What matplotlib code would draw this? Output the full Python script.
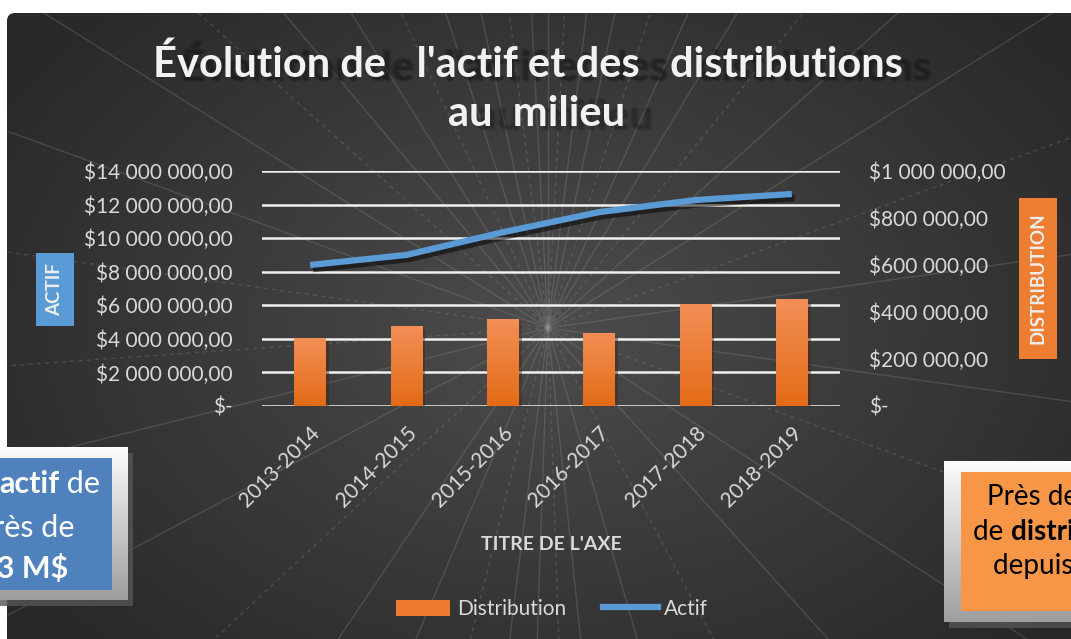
import numpy as np
import matplotlib
matplotlib.use("Agg")
import matplotlib.pyplot as plt
from matplotlib.patches import Rectangle, Patch, FancyBboxPatch
from matplotlib.lines import Line2D
from matplotlib.ticker import FuncFormatter, MultipleLocator
import matplotlib.patheffects as pe

plt.rcParams['font.family'] = ['Lato', 'DejaVu Sans']

# data
annees = ["2013-2014", "2014-2015", "2015-2016", "2016-2017", "2017-2018", "2018-2019"]
actif = [8.40e6, 9.00e6, 10.35e6, 11.55e6, 12.27e6, 12.63e6]
distribution = [289000, 340000, 370000, 311000, 434000, 455000]

W, H = 1071, 639
fig = plt.figure(figsize=(W / 100, H / 100), dpi=100)
fig.patch.set_facecolor('white')

# ---- background (pixel coordinates)
bg = fig.add_axes([0, 0, 1, 1])
bg.set_xlim(0, W)
bg.set_ylim(H, 0)
bg.axis('off')

cx, cy = 548, 328
yy, xx = np.mgrid[13:H, 7:W]
d = np.sqrt(((xx - cx) / 650.0) ** 2 + ((yy - cy) / 450.0) ** 2)
g = 0.30 - 0.14 * np.clip(d, 0, 1)
img = np.dstack([g, g, g])
clip = FancyBboxPatch((7, 13), W + 20, H, boxstyle="round,pad=0,rounding_size=8",
                      transform=bg.transData, fc='none', ec='none')
bg.add_patch(clip)
im = bg.imshow(img, extent=[7, W, H, 13], aspect='auto', zorder=0)
im.set_clip_path(clip)

# rays from the centre
ray_angles = [-172, -160, -148, -138, -130, -122, -115, -108, -102, -97, -93, -90, -87, -83,
              -78, -72, -66, -59, -51, -42, -32, -20, -8, 8, 20, 33, 48, 62, 74, 84, 88, 92,
              97, 104, 113, 124, 137, 152, 166, 176]
for k, a in enumerate(ray_angles):
    r = np.radians(a)
    x1 = cx + 1400 * np.cos(r)
    y1 = cy + 1400 * np.sin(r)
    ls = (0, (3, 3)) if k % 3 == 0 else '-'
    ln, = bg.plot([cx, x1], [cy, y1], color='#9a9a9a', lw=1.0, alpha=0.25, ls=ls, zorder=1)
    ln.set_clip_path(clip)

# ---- main axes
ax = fig.add_axes([262 / W, 1 - 406 / H, 578 / W, 235 / H])
ax.patch.set_visible(False)
x = np.arange(len(annees))
ax.set_xlim(-0.5, len(annees) - 0.5)
ax.set_ylim(0, 14e6)
ax.yaxis.set_major_locator(MultipleLocator(2e6))
ax.grid(axis='y', color='#f0f0f0', lw=1.8)
ax.set_axisbelow(True)
for s in ax.spines.values():
    s.set_visible(False)


def fmt_money(v, pos):
    if abs(v) < 1:
        return "$-"
    s = "{:,.2f}".format(v).replace(",", " ").replace(".", ",")
    return "$" + s


ax.yaxis.set_major_formatter(FuncFormatter(fmt_money))
ax.tick_params(axis='y', length=0, pad=21, labelsize=15, labelcolor='#d9d9d9')
ax.set_xticks(x)
ax.set_xticklabels(annees, rotation=45, ha='right', rotation_mode='anchor')
ax.tick_params(axis='x', length=0, pad=12, labelsize=15, labelcolor='#d9d9d9')
ax.set_xlabel("TITRE DE L'AXE", fontsize=14, fontweight='bold', color='#d9d9d9', labelpad=18)

ax2 = ax.twinx()
ax2.patch.set_visible(False)
for s in ax2.spines.values():
    s.set_visible(False)
bars = ax2.bar(x, distribution, width=0.33, color='#ee7b2f', zorder=2,
               path_effects=[pe.SimplePatchShadow(offset=(2, -2), alpha=0.45), pe.Normal()])
grad = np.linspace(0, 1, 64).reshape(-1, 1)
top = np.array([0.95, 0.56, 0.34])
bot = np.array([0.89, 0.42, 0.09])
grad_img = (top * (1 - grad)[..., None] + bot * grad[..., None]).reshape(64, 1, 3)
for b in bars:
    gi = ax2.imshow(grad_img, extent=[b.get_x(), b.get_x() + b.get_width(), 0, b.get_height()],
                    aspect='auto', zorder=3, origin='upper')
    gi.set_clip_path(b)
ax2.set_xlim(-0.5, len(annees) - 0.5)
ax2.set_ylim(0, 1e6)
ax2.yaxis.set_major_locator(MultipleLocator(2e5))
ax2.yaxis.set_major_formatter(FuncFormatter(fmt_money))
ax2.tick_params(axis='y', length=0, pad=21, labelsize=15, labelcolor='#d9d9d9')

ax3 = fig.add_axes(ax.get_position(), sharex=ax, sharey=ax)
ax3.axis('off')
ax3.plot(x, actif, color='#5b9bd5', lw=4.5, solid_capstyle='butt', solid_joinstyle='round',
         path_effects=[pe.SimpleLineShadow(offset=(2, -3), alpha=0.5, shadow_color='black'),
                       pe.Normal()])
ax3.set_ylim(0, 14e6)

# ---- axis title boxes
bg.add_patch(Rectangle((36, 253), 38, 73, fc='#5b9bd5', ec='none', zorder=5))
bg.text(55, 289.5, "ACTIF", rotation=90, ha='center', va='center', fontsize=13.5,
        fontweight='bold', color='#eeeeee', zorder=6)
bg.add_patch(Rectangle((1019, 198), 38, 161, fc='#ed7d31', ec='none', zorder=5))
bg.text(1038, 278.5, "DISTRIBUTION", rotation=90, ha='center', va='center', fontsize=13.5,
        fontweight='bold', color='#eeeeee', zorder=6)

# ---- title with soft shadow
t1 = "Évolution de   l'actif et des   distributions"
t2 = "au  milieu"
for dx, dy in [(26, 3), (28, 5), (30, 4), (28, 3)]:
    bg.text(528 + dx, 64 + dy, t1, ha='center', va='center', fontsize=30, fontweight='bold',
            color='#151515', alpha=0.2, zorder=4)
    bg.text(537 + dx, 114 + dy, t2, ha='center', va='center', fontsize=30, fontweight='bold',
            color='#151515', alpha=0.12, zorder=4)
bg.text(528, 64, t1, ha='center', va='center', fontsize=30, fontweight='bold',
        color='#f2f2f2', zorder=5)
bg.text(537, 114, t2, ha='center', va='center', fontsize=30, fontweight='bold',
        color='#f2f2f2', zorder=5)

# ---- legend
handles = [Patch(facecolor='#ee7b2f', edgecolor='none', label='Distribution'),
           Line2D([0], [0], color='#5b9bd5', lw=4.5, label='Actif')]
fig.legend(handles=handles, loc='center', bbox_to_anchor=(552 / W, 1 - 609 / H), ncol=2,
           frameon=False, fontsize=15, labelcolor='#d9d9d9', handlelength=2.6,
           handleheight=0.8, handletextpad=0.3, columnspacing=1.8)


# ---- side callout boxes
def callout(x0, y0, w, h, inner, fc):
    bg.add_patch(Rectangle((x0 + 5, y0 + 6), w, h, fc='#555555', ec='none', alpha=0.8, zorder=7))
    fr = np.linspace(0, 1, 64).reshape(-1, 1)
    c1 = np.array([0.99, 0.99, 0.99])
    c2 = np.array([0.62, 0.62, 0.62])
    fimg = (c1 * (1 - fr)[..., None] + c2 * fr[..., None]).reshape(64, 1, 3)
    bg.imshow(fimg, extent=[x0, x0 + w, y0 + h, y0], aspect='auto', zorder=8)
    ix, iy, iw, ih = inner
    bg.add_patch(Rectangle((ix, iy), iw, ih, fc=fc, ec='none', zorder=9))


callout(-10, 447, 138, 153, (-10, 458, 122, 132), '#4f81bd')
callout(944, 461, 140, 161, (961, 472, 120, 139), '#f79646')

# left box text
a1 = bg.text(-1, 493, "actif", ha='left', va='baseline', fontsize=22, fontweight='bold',
             color='white', zorder=10)
bg.annotate("Un ", xy=(0, 0), xycoords=a1, ha='right', va='bottom', fontsize=22,
            color='white', zorder=10)
bg.annotate(" de", xy=(1, 0), xycoords=a1, ha='left', va='bottom', fontsize=22,
            color='white', zorder=10)
bg.text(75, 537, "près de", ha='right', va='baseline', fontsize=22, color='white', zorder=10)
bg.text(68, 578, "13 M$", ha='right', va='baseline', fontsize=22, fontweight='bold',
        color='white', zorder=10)

# right box text
bg.text(987, 504, "Près de 2,2 M$", ha='left', va='baseline', fontsize=20, color='black',
        zorder=10)
b1 = bg.text(973, 540, "de ", ha='left', va='baseline', fontsize=20, color='black', zorder=10)
bg.annotate("distributions", xy=(1, 0), xycoords=b1, ha='left', va='bottom', fontsize=20,
            fontweight='bold', color='black', zorder=10)
bg.text(993, 574, "depuis 2013", ha='left', va='baseline', fontsize=20, color='black',
        zorder=10)

fig.savefig("out.png", dpi=100, facecolor=fig.get_facecolor())
